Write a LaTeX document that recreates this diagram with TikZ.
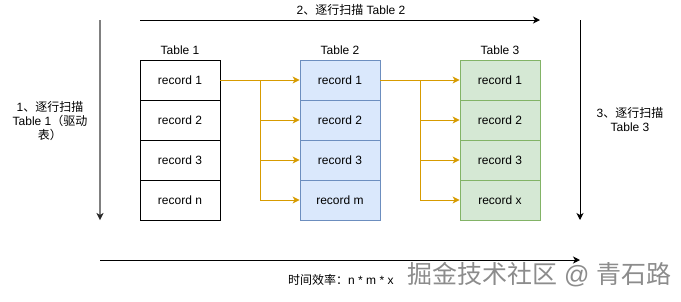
\documentclass[tikz,border=0pt]{standalone}
\usepackage{fontspec}
\setmainfont{Liberation Sans}
\newfontfamily\cjk{Noto Sans CJK SC}
\usetikzlibrary{arrows.meta,positioning}
\definecolor{orangeline}{HTML}{D79B00}
\definecolor{bluefill}{HTML}{DAE8FC}
\definecolor{bluedraw}{HTML}{6C8EBF}
\definecolor{greenfill}{HTML}{D5E8D4}
\definecolor{greendraw}{HTML}{82B366}
\definecolor{grayline}{HTML}{808080}
\tikzset{
  rec/.style={draw, rectangle, minimum width=80pt, minimum height=40pt, inner sep=0pt, font=\fontsize{12}{14}\selectfont, line width=0.8pt},
  t1/.style={rec, draw=black, fill=white},
  t2/.style={rec, draw=bluedraw, fill=bluefill},
  t3/.style={rec, draw=greendraw, fill=greenfill},
  hdr/.style={font=\fontsize{12}{14}\selectfont, inner sep=0pt},
  lbl/.style={font=\fontsize{12}{14}\selectfont, align=center, inner sep=0pt},
  tip/.style={-{Stealth[length=7pt,width=7pt,inset=2pt]}},
  oarrow/.style={tip, draw=orangeline, line width=0.9pt},
  oline/.style={draw=orangeline, line width=0.9pt},
  barrow/.style={tip, line width=1pt},
  garrow/.style={-{Stealth[length=7pt,width=7pt,inset=2pt,color=black!85,line width=0.5pt]}, draw=grayline, line width=2pt},
}
\begin{document}
\begin{tikzpicture}[x=1pt,y=-1pt]
\useasboundingbox (0,0) rectangle (681,301);
% table 1
\node[hdr] (h1) at (180,50) {Table 1};
\node[t1] (a1) at (180,80) {record 1};
\node[t1] (a2) at (180,120) {record 2};
\node[t1] (a3) at (180,160) {record 3};
\node[t1] (a4) at (180,200) {record n};
% table 2
\node[hdr] (h2) at (340,50) {Table 2};
\node[t2] (b1) at (340,80) {record 1};
\node[t2] (b2) at (340,120) {record 2};
\node[t2] (b3) at (340,160) {record 3};
\node[t2] (b4) at (340,200) {record m};
% table 3
\node[hdr] (h3) at (500,50) {Table 3};
\node[t3] (c1) at (500,80) {record 1};
\node[t3] (c2) at (500,120) {record 2};
\node[t3] (c3) at (500,160) {record 3};
\node[t3] (c4) at (500,200) {record x};
% orange connectors
\coordinate (j1) at (260,80);
\coordinate (j2) at (420,80);
\draw[oarrow] (a1.east) -- (b1.west);
\draw[oline] (j1) -- (j1 |- b4.west);
\draw[oarrow] (j1) |- (b2.west);
\draw[oarrow] (j1) |- (b3.west);
\draw[oarrow] (j1) |- (b4.west);
\draw[oarrow] (b1.east) -- (c1.west);
\draw[oline] (j2) -- (j2 |- c4.west);
\draw[oarrow] (j2) |- (c2.west);
\draw[oarrow] (j2) |- (c3.west);
\draw[oarrow] (j2) |- (c4.west);
% scan arrows
\coordinate (ls) at (100,20);
\coordinate (le) at (100,220);
\draw[garrow] (ls) -- (le);
\node[lbl] (l1) at (50,121) {1{\cjk 、逐行扫描}\\Table 1{\cjk （驱动}\\{\cjk 表）}};
\coordinate (ts) at (140,20);
\coordinate (te) at (540,20);
\draw[barrow] (ts) -- (te);
\node[lbl] (l2) at (351,10) {2{\cjk 、逐行扫描} Table 2};
\coordinate (rs) at (580,20);
\coordinate (re) at (580,220);
\draw[barrow] (rs) -- (re);
\node[lbl] (l3) at (630,120) {3{\cjk 、逐行扫描}\\Table 3};
\coordinate (bs) at (100,260);
\coordinate (be) at (580,260);
\draw[barrow] (bs) -- (be);
\node[lbl, anchor=west] (l4) at (288,280) {{\cjk 时间效率：}n * m * x};
% watermark
\node[anchor=west, inner sep=0pt, text=black!45, font=\fontsize{25}{28}\selectfont] (wm) at (407,275) {{\cjk 掘金技术社区} @ {\cjk 青石路}};
\end{tikzpicture}
\end{document}
